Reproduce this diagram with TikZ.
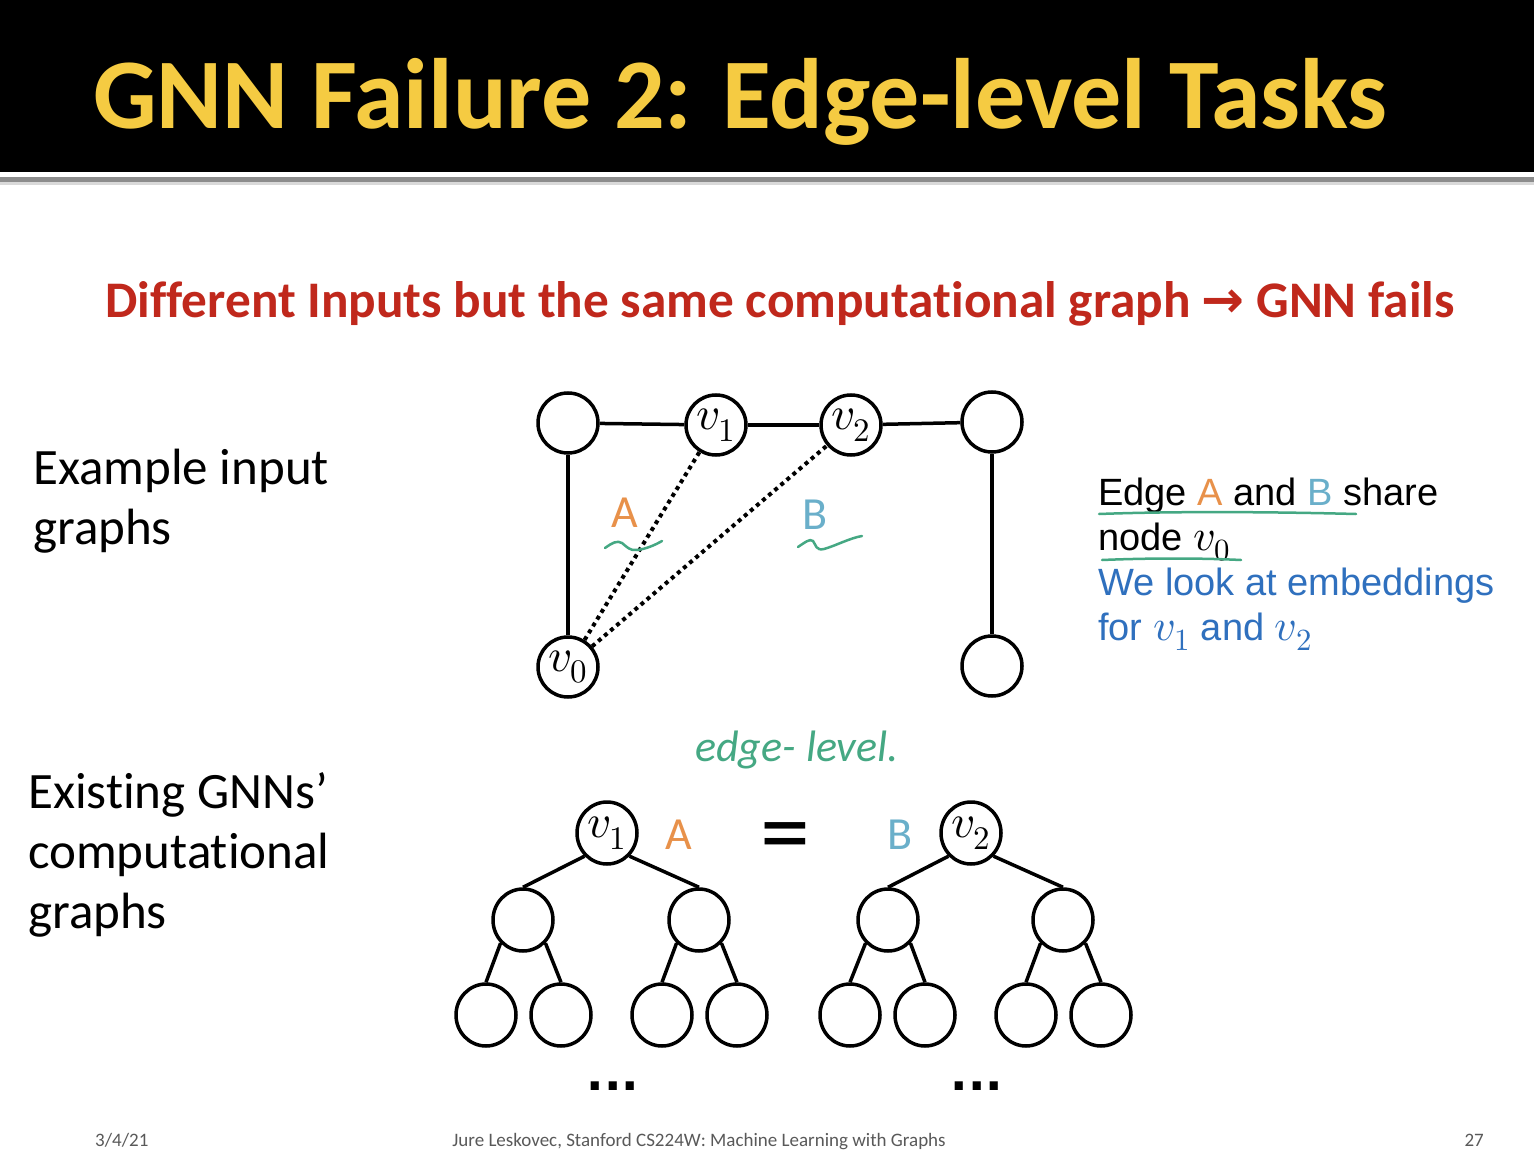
\documentclass[tikz,border=0pt]{standalone}
\usepackage{fontspec}
\usepackage{unicode-math}
\setmainfont{Carlito}[Ligatures=NoCommon]
\setmathfont{Latin Modern Math}
\newfontfamily\arial{Liberation Sans}
\newfontfamily\djv{DejaVu Sans}
\usetikzlibrary{shapes.geometric}
\definecolor{ttlyellow}{HTML}{F5CB42}
\definecolor{subred}{HTML}{C0281C}
\definecolor{aorange}{HTML}{E8914A}
\definecolor{bblue}{HTML}{6AAFCA}
\definecolor{hgreen}{HTML}{45A883}
\definecolor{tblue}{HTML}{2F70BE}
\definecolor{foot}{HTML}{595959}
\newcommand{\fs}[1]{\fontsize{#1}{#1}\selectfont}
\newcommand{\mv}[1]{{\fs{44}$#1$}}
\tikzset{
  gnode/.style={circle, draw=black, line width=3.5pt, minimum size=60pt, inner sep=0pt, fill=white, font=\fs{47}},
  tnode/.style={ellipse, draw=black, line width=3.5pt, minimum width=60pt, minimum height=62pt, inner sep=0pt, fill=white, font=\fs{47}},
  edge/.style={line width=3.5pt, black},
  dotedge/.style={line width=4pt, black, dash pattern=on 4pt off 4pt},
  squig/.style={line width=2.5pt, hgreen, line cap=round},
  lbl/.style={anchor=base west, inner sep=0pt, font=\fs{51}},
  rtxt/.style={anchor=base west, inner sep=0pt, font=\arial\fs{38}},
}
\begin{document}
\begin{tikzpicture}[x=1pt,y=-1pt]
\useasboundingbox (0,0) rectangle (1534,1150);
\fill[white] (0,0) rectangle (1534,1150);
% title bar
\fill[black] (0,0) rectangle (1534,172);
\fill[black!45] (0,177) rectangle (1534,182);
\fill[black!15] (0,182) rectangle (1534,185);
\node[anchor=base west, inner sep=0pt, text=ttlyellow, font=\fs{100}\bfseries] (title) at (93,129) {GNN Failure 2: Edge-level Tasks};
% subtitle
\node[anchor=base, inner sep=0pt, text=subred, font=\fs{51.3}\bfseries] (sub) at (780,317) {Different Inputs but the same computational graph {\djv\bfseries →} GNN fails};
% left labels
\node[lbl] (lab1a) at (33,484) {Example input};
\node[lbl] (lab1b) at (33,544) {graphs};
\node[lbl] (lab2a) at (28,808) {Existing GNNs’};
\node[lbl] (lab2b) at (28,868) {computational};
\node[lbl] (lab2c) at (28,928) {graphs};
% top graph
\node[gnode] (tl) at (568,423) {};
\node[gnode] (v1) at (716,425) {$v_1$};
\node[gnode] (v2) at (851,425) {$v_2$};
\node[gnode] (tr) at (992,422) {};
\node[gnode] (v0) at (568,667) {$v_0$};
\node[gnode] (br) at (992,666) {};
\draw[edge] (tl) -- (v1);
\draw[edge] (v1) -- (v2);
\draw[edge] (v2) -- (tr);
\draw[edge] (tl) -- (v0);
\draw[edge] (tr) -- (br);
\draw[dotedge] (v0) -- (v1);
\draw[dotedge] (v0) -- (v2);
\node[inner sep=0pt, text=aorange, font=\fs{46}] (A1) at (625,513) {A};
\node[inner sep=0pt, text=bblue, font=\fs{46}] (B1) at (815,515) {B};
\draw[squig] (605,548) .. controls (612,543) and (617,540) .. (622,543) .. controls (627,547) and (630,551) .. (637,550) .. controls (646,549) and (655,545) .. (662,541);
\draw[squig] (798,547) .. controls (804,543) and (810,538) .. (813,541) .. controls (816,545) and (816,551) .. (824,549) .. controls (835,546) and (850,538) .. (862,536);
% right text
\node[rtxt] (t1) at (1098,505) {Edge \textcolor{aorange}{A} and \textcolor{bblue}{B} share};
\node[rtxt] (t2) at (1098,550) {node \mv{v_0}};
\node[rtxt, text=tblue] (t3) at (1098,595) {We look at embeddings};
\node[rtxt, text=tblue] (t4) at (1098,640) {for \mv{v_1} and \mv{v_2}};
\draw[squig] (1099,514) .. controls (1180,511) and (1280,512) .. (1356,514);
\draw[squig] (1102,560) .. controls (1150,558) and (1200,558) .. (1241,560);
% handwritten note
\node[inner sep=0pt, text=hgreen, font=\fs{44}\itshape] (hw) at (797,750) {edge- level.};
% trees
\node[tnode] (r1) at (607,833) {$v_1$};
\node[tnode] (a1) at (523,920) {};
\node[tnode] (a2) at (699,920) {};
\node[tnode] (l1) at (486,1015) {};
\node[tnode] (l2) at (561,1015) {};
\node[tnode] (l3) at (662,1015) {};
\node[tnode] (l4) at (737,1015) {};
\draw[edge] (r1.south west) -- (a1.north); \draw[edge] (r1.south east) -- (a2.north);
\draw[edge] (a1.south west) -- (l1.north); \draw[edge] (a1.south east) -- (l2.north);
\draw[edge] (a2.south west) -- (l3.north); \draw[edge] (a2.south east) -- (l4.north);
\node[tnode] (r2) at (971,833) {$v_2$};
\node[tnode] (b1) at (888,920) {};
\node[tnode] (b2) at (1063,920) {};
\node[tnode] (m1) at (850,1015) {};
\node[tnode] (m2) at (925,1015) {};
\node[tnode] (m3) at (1026,1015) {};
\node[tnode] (m4) at (1101,1015) {};
\draw[edge] (r2.south west) -- (b1.north); \draw[edge] (r2.south east) -- (b2.north);
\draw[edge] (b1.south west) -- (m1.north); \draw[edge] (b1.south east) -- (m2.north);
\draw[edge] (b2.south west) -- (m3.north); \draw[edge] (b2.south east) -- (m4.north);
\node[inner sep=0pt, text=aorange, font=\fs{46}] (A2) at (679,835) {A};
\node[inner sep=0pt, text=bblue, font=\fs{46}] (B2) at (900,835) {B};
\node[inner sep=0pt, font=\fs{100}] (eq) at (785,844) {=};
\node[anchor=base, inner sep=0pt, font=\djv\fs{46}\bfseries] (d1) at (613,1090) {...};
\node[anchor=base, inner sep=0pt, font=\djv\fs{46}\bfseries] (d2) at (977,1090) {...};
% footer
\node[anchor=base west, inner sep=0pt, text=foot, font=\fs{19}] (f1) at (95,1146) {3/4/21};
\node[anchor=base, inner sep=0pt, text=foot, font=\fs{19}] (f2) at (699,1146) {Jure Leskovec, Stanford CS224W: Machine Learning with Graphs};
\node[anchor=base east, inner sep=0pt, text=foot, font=\fs{19}] (f3) at (1484,1146) {27};
\end{tikzpicture}
\end{document}
